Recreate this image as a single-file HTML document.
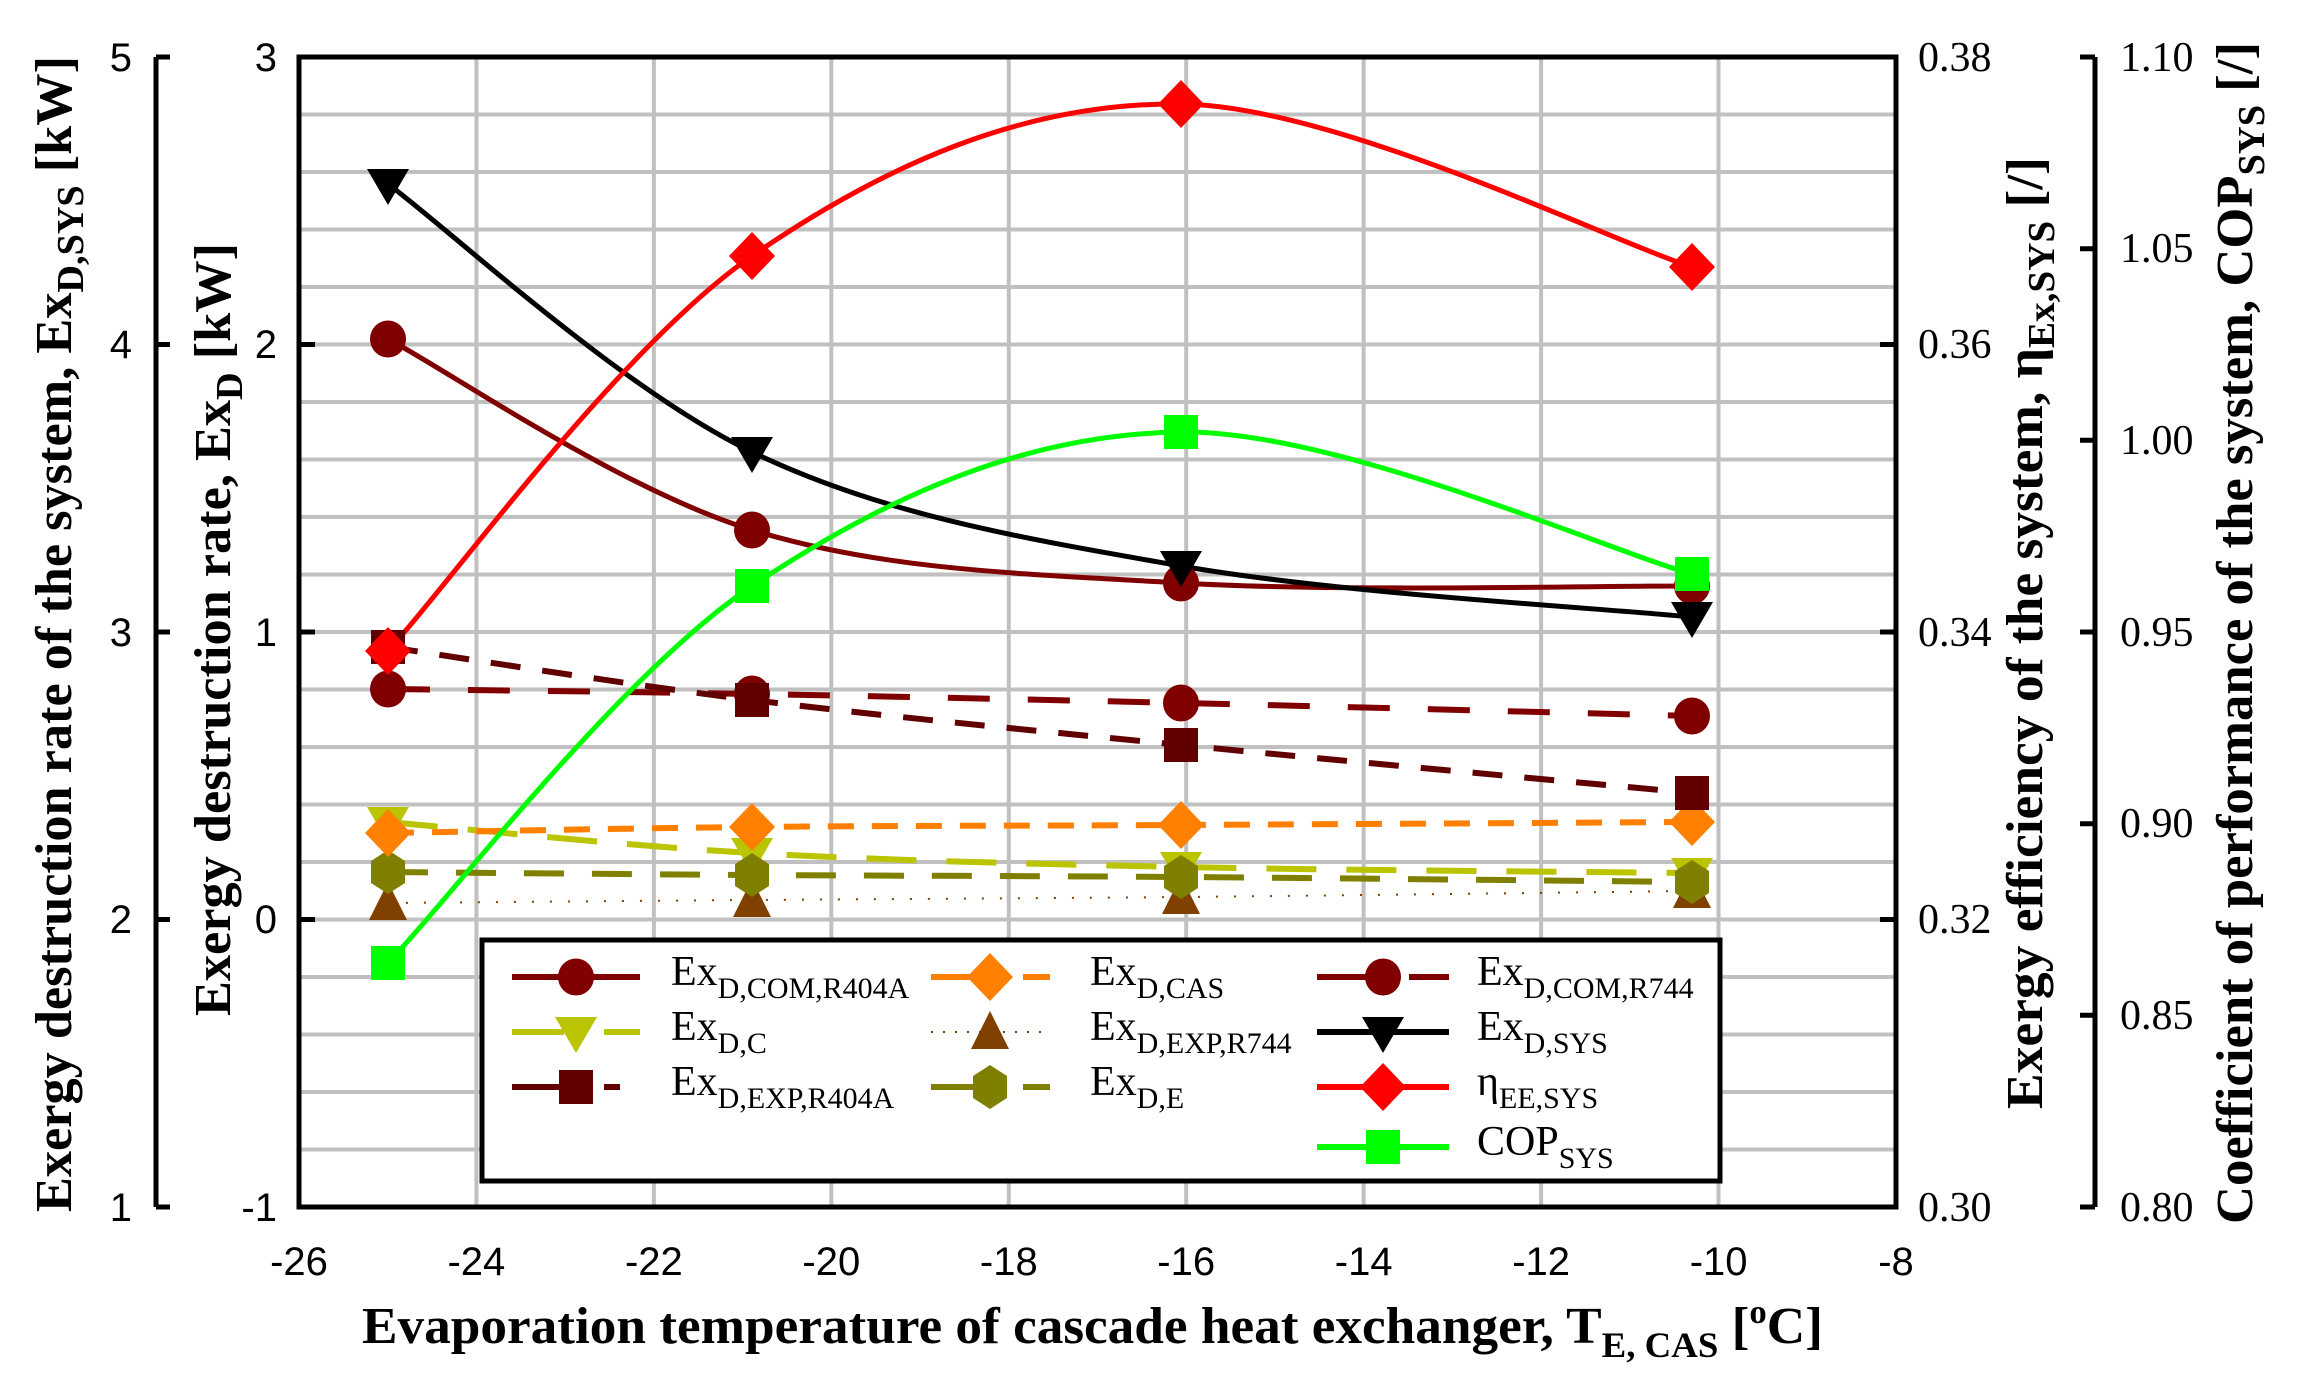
<!DOCTYPE html>
<html><head><meta charset="utf-8"><style>
html,body{margin:0;padding:0;background:#fff}
svg{display:block}
.tk{font-family:"Liberation Sans",sans-serif;font-size:40px;fill:#000}
.tr{font-family:"Liberation Serif",serif;font-size:42px;fill:#000}
.tt{font-family:"Liberation Serif",serif;font-size:52px;font-weight:bold;fill:#000}
.lg{font-family:"Liberation Serif",serif;font-size:42px;fill:#000}
</style></head><body>
<svg id="s" width="2310" height="1380" viewBox="0 0 2310 1380" xmlns="http://www.w3.org/2000/svg">
<rect width="2310" height="1380" fill="#fff"/>
<g id="grid" stroke="#c0c0c0" stroke-width="4"></g>
<g id="lines" fill="none"></g>
<g id="marks"></g>
<!-- plot frame -->
<rect x="299" y="57" width="1597" height="1150" fill="none" stroke="#000" stroke-width="5"/>
<!-- outer left axis -->
<path d="M156,57V1207M156,57H170M156,344.5H170M156,632H170M156,919.5H170M156,1207H170" stroke="#000" stroke-width="5" fill="none"/>
<!-- inner left ticks -->
<path d="M299,57H315M299,344.5H315M299,632H315M299,919.5H315M299,1207H315" stroke="#000" stroke-width="5"/>
<!-- right inner ticks -->
<path d="M1896,57H1880M1896,344.5H1880M1896,632H1880M1896,919.5H1880M1896,1207H1880" stroke="#000" stroke-width="5"/>
<!-- COP axis -->
<path d="M2095,57V1207M2095,57H2080M2095,248.7H2080M2095,440.3H2080M2095,632H2080M2095,823.7H2080M2095,1015.3H2080M2095,1207H2080" stroke="#000" stroke-width="5" fill="none"/>
<!-- bottom x tick marks -->
<g class="tk" text-anchor="end">
<text x="132" y="71">5</text><text x="132" y="358">4</text><text x="132" y="646">3</text><text x="132" y="933">2</text><text x="132" y="1221">1</text>
<text x="277" y="71">3</text><text x="277" y="358">2</text><text x="277" y="646">1</text><text x="277" y="933">0</text><text x="277" y="1221">-1</text>
</g>
<g class="tk" text-anchor="middle">
<text x="299" y="1275">-26</text><text x="476.4" y="1275">-24</text><text x="653.9" y="1275">-22</text><text x="831.3" y="1275">-20</text><text x="1008.8" y="1275">-18</text><text x="1186.2" y="1275">-16</text><text x="1363.7" y="1275">-14</text><text x="1541.1" y="1275">-12</text><text x="1718.6" y="1275">-10</text><text x="1896" y="1275">-8</text>
</g>
<g class="tr">
<text x="1918" y="71">0.38</text><text x="1918" y="358">0.36</text><text x="1918" y="646">0.34</text><text x="1918" y="933">0.32</text><text x="1918" y="1221">0.30</text>
<text x="2120" y="71">1.10</text><text x="2120" y="262">1.05</text><text x="2120" y="454">1.00</text><text x="2120" y="646">0.95</text><text x="2120" y="837">0.90</text><text x="2120" y="1029">0.85</text><text x="2120" y="1221">0.80</text>
</g>
<!-- axis titles -->
<text class="tt" transform="translate(71,1212) rotate(-90)" textLength="1156" lengthAdjust="spacingAndGlyphs">Exergy destruction rate of the system, Ex<tspan font-size="38" dy="12">D,SYS</tspan><tspan dy="-12"> [kW]</tspan></text>
<text class="tt" transform="translate(230,1016) rotate(-90)" textLength="773" lengthAdjust="spacingAndGlyphs">Exergy destruction rate, Ex<tspan font-size="38" dy="12">D</tspan><tspan dy="-12"> [kW]</tspan></text>
<text class="tt" transform="translate(2042,1109) rotate(-90)" textLength="952" lengthAdjust="spacingAndGlyphs">Exergy efficiency of the system, η<tspan font-size="38" dy="12">Ex,SYS</tspan><tspan dy="-12"> [/]</tspan></text>
<text class="tt" transform="translate(2252,1224) rotate(-90)" textLength="1182" lengthAdjust="spacingAndGlyphs">Coefficient of performance of the system, COP<tspan font-size="38" dy="12">SYS</tspan><tspan dy="-12"> [/]</tspan></text>
<text class="tt" x="362" y="1343" textLength="1461" lengthAdjust="spacingAndGlyphs">Evaporation temperature of cascade heat exchanger, T<tspan font-size="36" dy="14">E, CAS</tspan><tspan dy="-14"> [</tspan><tspan font-size="34" dy="-20">o</tspan><tspan dy="20">C]</tspan></text>
<!-- legend -->
<rect x="482" y="940" width="1238" height="241" fill="#fff" stroke="#000" stroke-width="5"/>
<g id="leg"></g>
<g class="lg">
<text x="671" y="985">Ex<tspan font-size="30" dy="13">D,COM,R404A</tspan></text>
<text x="671" y="1040">Ex<tspan font-size="30" dy="13">D,C</tspan></text>
<text x="671" y="1095">Ex<tspan font-size="30" dy="13">D,EXP,R404A</tspan></text>
<text x="1090" y="985">Ex<tspan font-size="30" dy="13">D,CAS</tspan></text>
<text x="1090" y="1040">Ex<tspan font-size="30" dy="13">D,EXP,R744</tspan></text>
<text x="1090" y="1095">Ex<tspan font-size="30" dy="13">D,E</tspan></text>
<text x="1477" y="985">Ex<tspan font-size="30" dy="13">D,COM,R744</tspan></text>
<text x="1477" y="1040">Ex<tspan font-size="30" dy="13">D,SYS</tspan></text>
<text x="1477" y="1095">η<tspan font-size="30" dy="13">EE,SYS</tspan></text>
<text x="1477" y="1155">COP<tspan font-size="30" dy="13">SYS</tspan></text>
</g>
</svg>
<script>
var NS="http://www.w3.org/2000/svg";
function el(p,t,a){var e=document.createElementNS(NS,t);for(var k in a)e.setAttribute(k,a[k]);p.appendChild(e);return e;}
var g=document.getElementById('grid');
for(var i=1;i<9;i++){var x=299+i*177.44;el(g,'line',{x1:x,y1:57,x2:x,y2:1207});}
for(var j=1;j<20;j++){var y=57+j*57.5;el(g,'line',{x1:299,y1:y,x2:1896,y2:y});}
var X=[388,752,1181,1692];
var S=[
{c:'#bbc400',y:[822,853,867,873],m:'tri',d:'50 30',w:6},
{c:'#804000',y:[903,900,897,891],m:'triu',d:'2 16',w:2},
{c:'#808000',y:[872,875,877,882],m:'hex',d:'40 28',w:6},
{c:'#ff8000',y:[833,827,825,822],m:'dia',d:'26 18',w:6},
{c:'#800000',y:[689,694,703,716],m:'cir',d:'42 38',w:6},
{c:'#600000',y:[647,700,745,793],m:'sq',d:'30 22',w:6},
{c:'#800000',y:[339,530,583,586],m:'cir',d:null,w:5},
{c:'#000000',y:[184,452,566,617],m:'tri',d:null,w:5},
{c:'#00ff00',y:[963,586,432,574],m:'sq',d:null,w:5},
{c:'#ff0000',y:[651,256,104,267],m:'dia',d:null,w:5}
];
function cr(xs,ys){var p='M'+xs[0]+','+ys[0];var n=xs.length;
for(var i=0;i<n-1;i++){var x0=xs[Math.max(i-1,0)],y0=ys[Math.max(i-1,0)],x1=xs[i],y1=ys[i],x2=xs[i+1],y2=ys[i+1],x3=xs[Math.min(i+2,n-1)],y3=ys[Math.min(i+2,n-1)];
var t=6;p+=' C'+(x1+(x2-x0)/t)+','+(y1+(y2-y0)/t)+' '+(x2-(x3-x1)/t)+','+(y2-(y3-y1)/t)+' '+x2+','+y2;}return p;}
function mk(p,t,x,y,c){
if(t=='cir')el(p,'ellipse',{cx:x,cy:y,rx:18,ry:18.5,fill:c});
else if(t=='sq')el(p,'rect',{x:x-17,y:y-17,width:34,height:34,fill:c});
else if(t=='dia')el(p,'polygon',{points:(x-23)+','+y+' '+x+','+(y-24)+' '+(x+23)+','+y+' '+x+','+(y+24),fill:c});
else if(t=='tri')el(p,'polygon',{points:(x-21)+','+(y-15)+' '+(x+21)+','+(y-15)+' '+x+','+(y+21),fill:c});
else if(t=='triu')el(p,'polygon',{points:(x-19)+','+(y+17)+' '+(x+19)+','+(y+17)+' '+x+','+(y-21),fill:c});
else if(t=='hex')el(p,'polygon',{points:(x-17)+','+(y-11)+' '+x+','+(y-22)+' '+(x+17)+','+(y-11)+' '+(x+17)+','+(y+11)+' '+x+','+(y+22)+' '+(x-17)+','+(y+11),fill:c});
}
var L=document.getElementById('lines'),M=document.getElementById('marks');
S.forEach(function(s){var a={d:cr(X,s.y),stroke:s.c,'stroke-width':s.w};if(s.d)a['stroke-dasharray']=s.d;el(L,'path',a);});
S.forEach(function(s){for(var i=0;i<4;i++)mk(M,s.m,X[i],s.y[i],s.c);});
var G=document.getElementById('leg');
var LG=[
[512,640,576,977,'#800000','cir',null,6],
[512,640,576,1032,'#bbc400','tri','50 30',6],
[512,620,576,1087,'#600000','sq','30 22',6],
[931,1050,990,977,'#ff8000','dia','26 18',6],
[931,1050,990,1032,'#804000','triu','2 16',2],
[931,1050,990,1087,'#808000','hex','40 28',6],
[1317,1449,1383,977,'#800000','cir','42 38',6],
[1317,1449,1383,1032,'#000000','tri',null,6],
[1317,1449,1383,1087,'#ff0000','dia',null,6],
[1317,1449,1383,1147,'#00ff00','sq',null,6]
];
LG.forEach(function(l){var a={x1:l[0],y1:l[3],x2:l[1],y2:l[3],stroke:l[4],'stroke-width':l[7]};if(l[6])a['stroke-dasharray']=l[6]=='2 16'?'2 10':'45 30';if(l[6]&&l[6]!='2 16'){a['stroke-dasharray']='52 40';}
el(G,'line',a);mk(G,l[5],l[2],l[3],l[4]);});
</script>
</body></html>
